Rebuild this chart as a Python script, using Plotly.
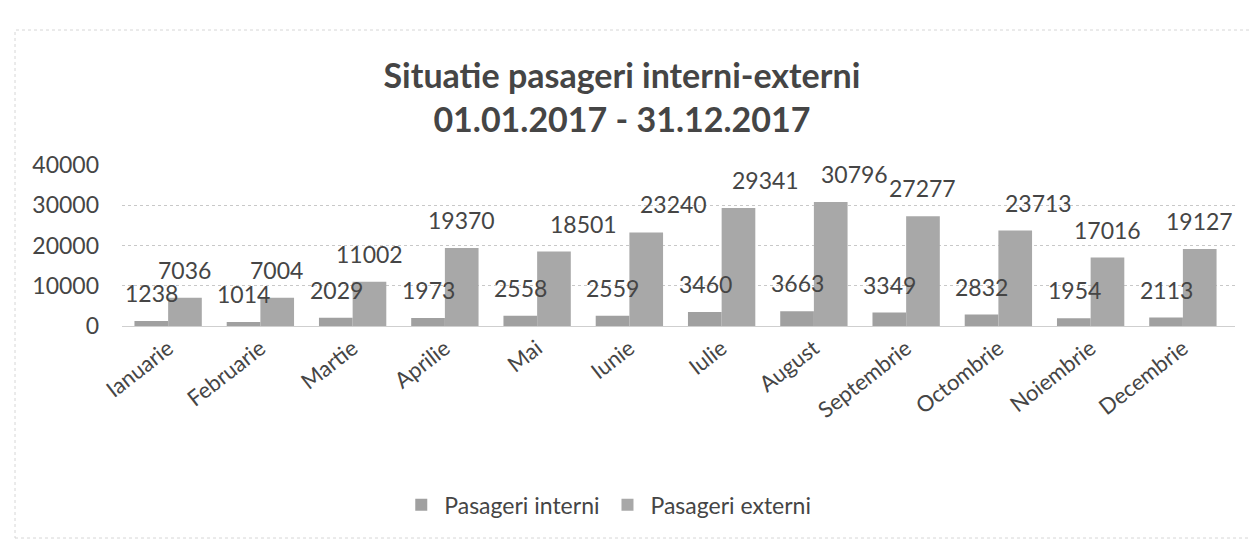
import plotly.graph_objects as go

months = ["Ianuarie", "Februarie", "Martie", "Aprilie", "Mai", "Iunie",
          "Iulie", "August", "Septembrie", "Octombrie", "Noiembrie", "Decembrie"]
interni = [1238, 1014, 2029, 1973, 2558, 2559, 3460, 3663, 3349, 2832, 1954, 2113]
externi = [7036, 7004, 11002, 19370, 18501, 23240, 29341, 30796, 27277, 23713, 17016, 19127]
y_ticks = [0, 10000, 20000, 30000, 40000]
y_tick_text = ["0", "10000", "20000", "30000", "40000"]

# label horizontal nudges (px) as placed in the original chart
ext_label_shift = [0, 0, 0, 0, 30, 28, 27, 24, 0, 23, 0, 0]

FONT = "Lato"
TXT = "#454545"

W, H = 1258, 546
ML, MR, MT, MB = 114, 31, 157, 228
PW, PH = W - ML - MR, H - MT - MB

fig = go.Figure()
fig.add_trace(go.Bar(x=months, y=interni, name="Pasageri interni",
                     marker=dict(color="#a0a0a0", line=dict(width=0)),
                     offsetgroup="a"))
fig.add_trace(go.Bar(x=months, y=externi, name="Pasageri externi",
                     marker=dict(color="#a8a8a8", line=dict(width=0)),
                     offsetgroup="b"))

ann = []
for i, m in enumerate(months):
    ann.append(dict(x=i - 0.18, y=interni[i], xref="x", yref="y", text=str(interni[i]),
                    showarrow=False, yanchor="middle", yshift=28,
                    font=dict(family=FONT, size=23, color=TXT)))
    ann.append(dict(x=i + 0.18, y=externi[i], xref="x", yref="y", text=str(externi[i]),
                    showarrow=False, yanchor="middle", xshift=ext_label_shift[i], yshift=28,
                    font=dict(family=FONT, size=23, color=TXT)))

# faint chart-area border
border = dict(type="rect", xref="paper", yref="paper",
              x0=(7 - ML) / PW, x1=(1255 - ML) / PW,
              y0=(H - MB - 530) / PH, y1=(H - MB - 22) / PH,
              line=dict(color="#d6d6d6", width=1, dash="dot"), layer="below")

fig.update_layout(
    width=W, height=H,
    paper_bgcolor="white", plot_bgcolor="white",
    margin=dict(l=ML, r=MR, t=MT, b=MB, autoexpand=False),
    title=dict(text="<b>Situatie pasageri interni-externi<br>01.01.2017 - 31.12.2017</b>",
               x=0.488, xanchor="center", y=0.853, yanchor="top",
               font=dict(family=FONT, size=34, color=TXT)),
    barmode="group", bargap=0.27, bargroupgap=0.0,
    showlegend=True,
    legend=dict(orientation="h", x=0.436, xanchor="center", y=-1.11, yanchor="middle",
                font=dict(family=FONT, size=23, color=TXT), itemwidth=36,
                traceorder="normal"),
    annotations=ann,
    shapes=[border],
    xaxis=dict(tickangle=-38, tickfont=dict(family=FONT, size=22, color=TXT),
               showline=True, linecolor="#cfcfcf", ticks="", automargin=False),
    yaxis=dict(range=[0, 40000], tickvals=y_ticks, ticktext=y_tick_text,
               tickfont=dict(family=FONT, size=23, color=TXT),
               showgrid=True, gridcolor="#c8c8c8", griddash="dot", zeroline=False,
               ticks="", ticklabelstandoff=22, automargin=False),
)

fig.write_html("out.html")
